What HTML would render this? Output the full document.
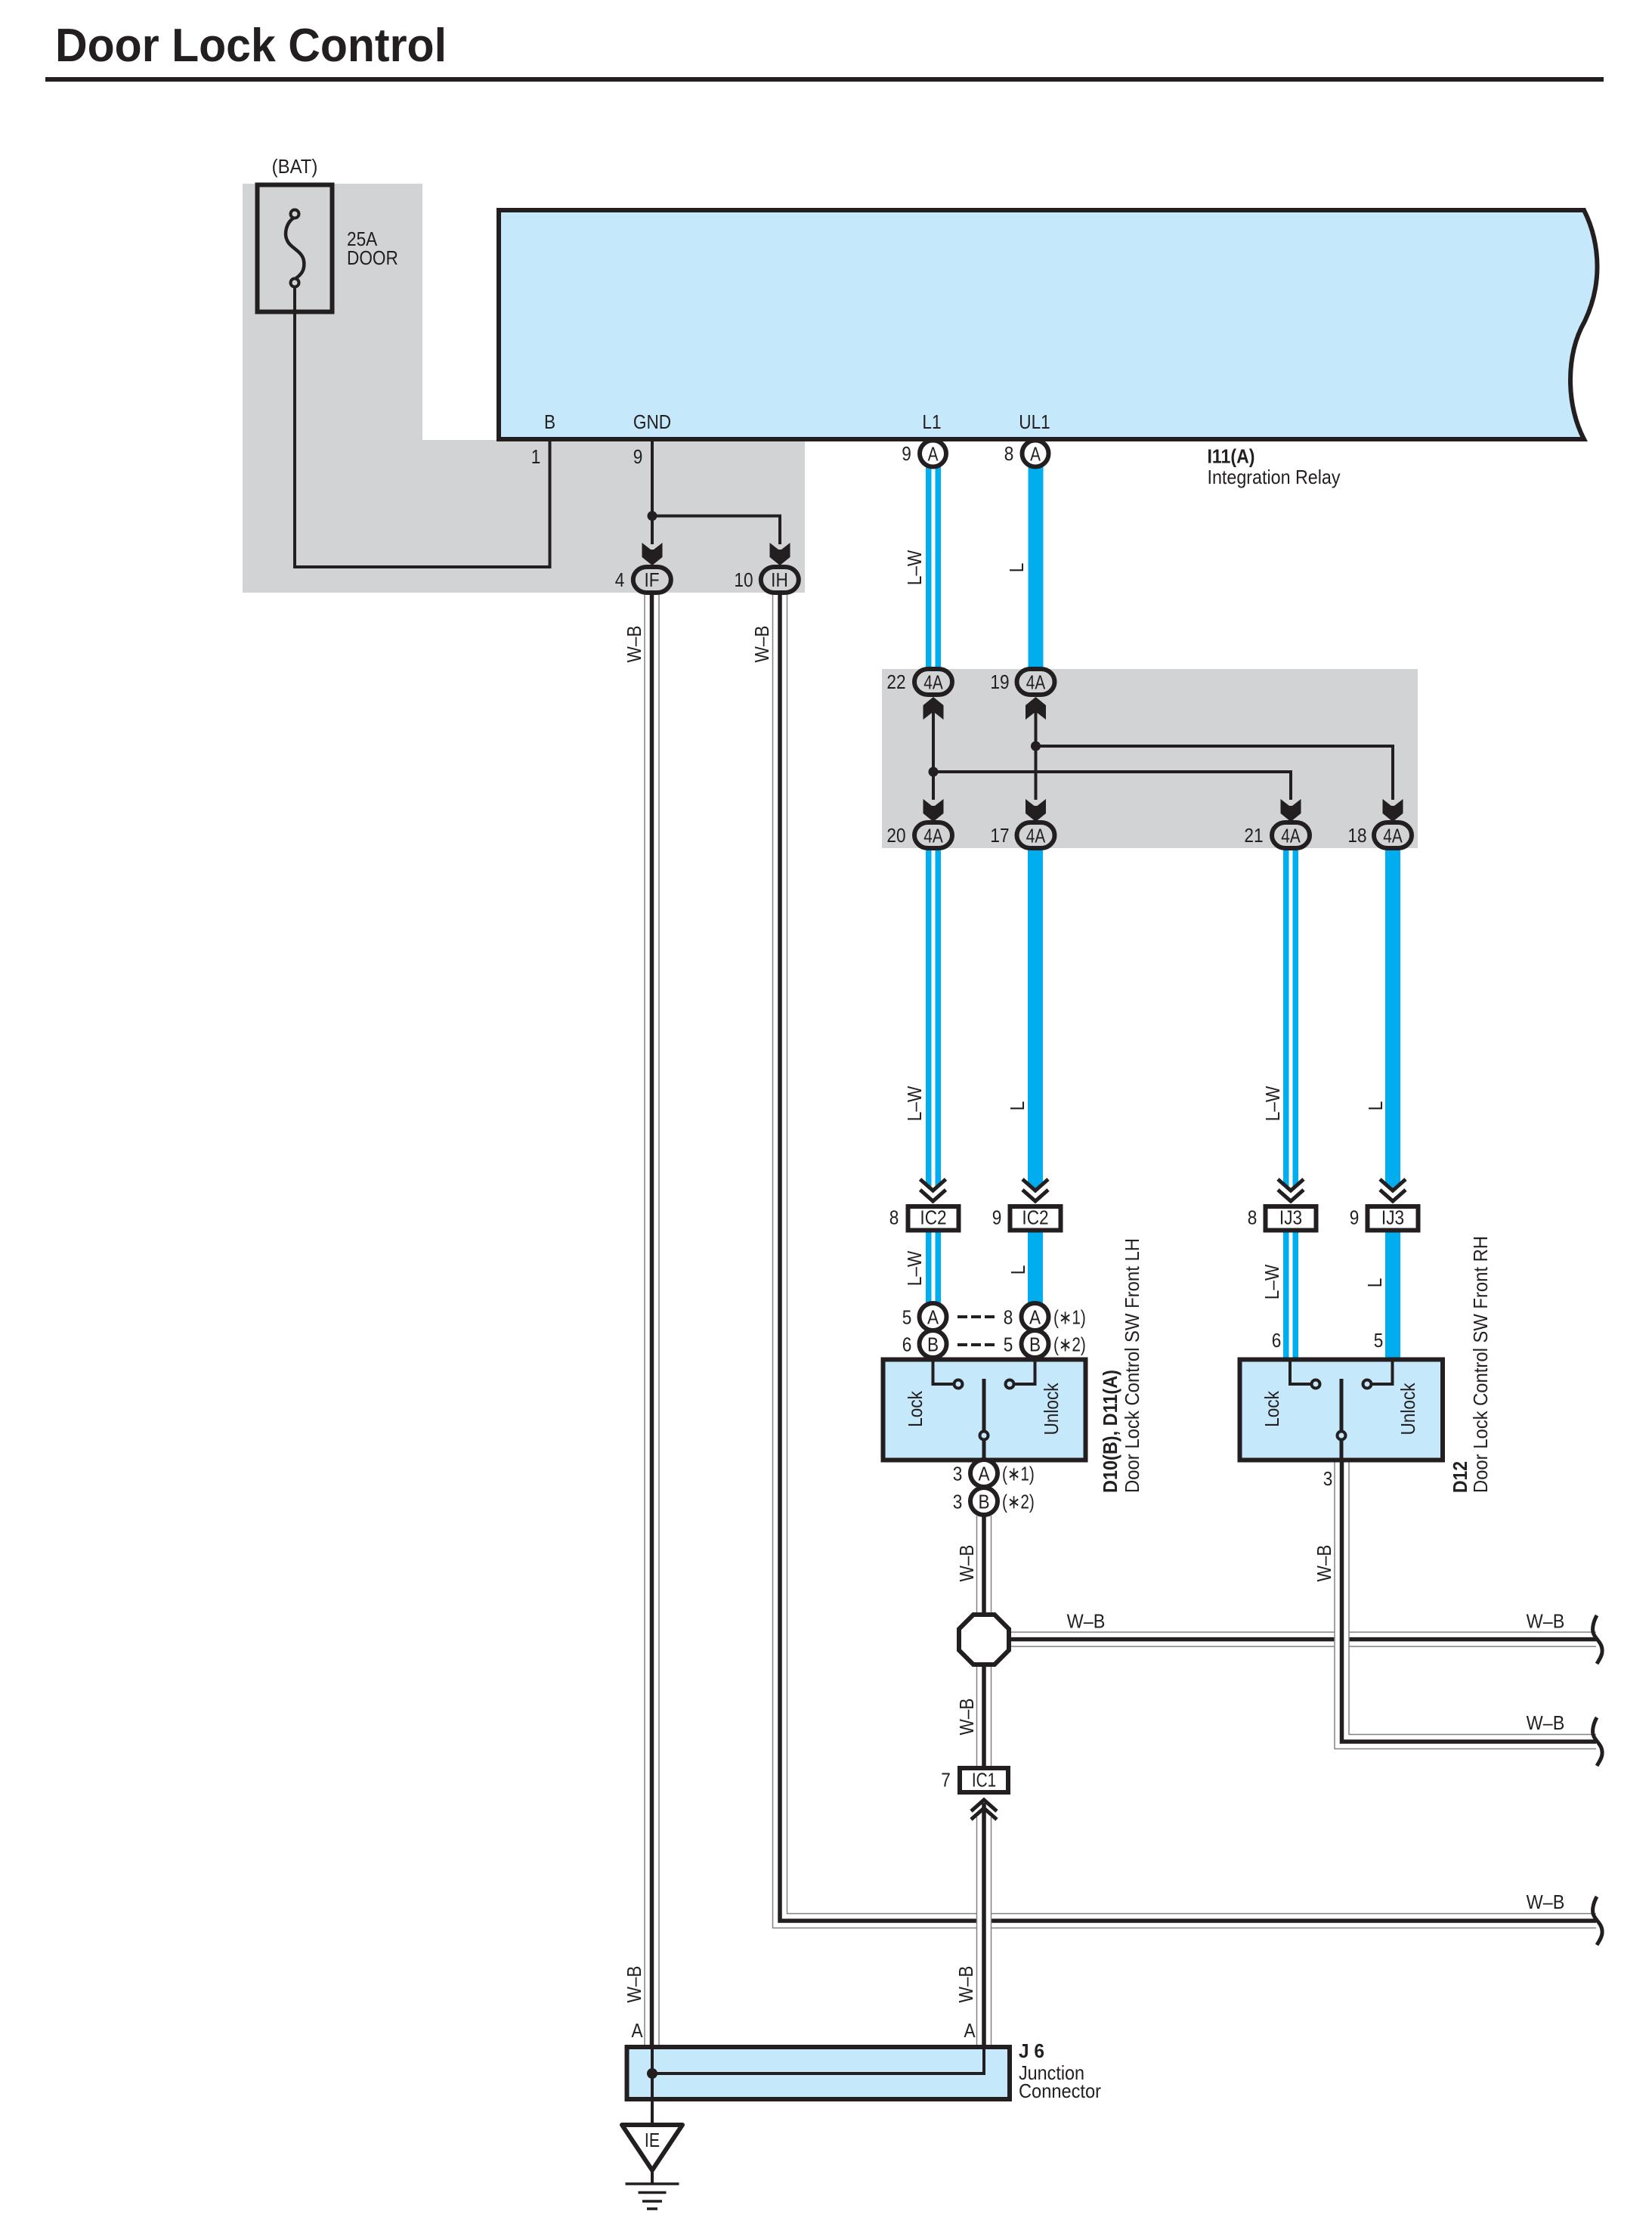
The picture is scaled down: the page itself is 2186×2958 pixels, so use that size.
<!DOCTYPE html>
<html><head><meta charset="utf-8"><title>Door Lock Control</title>
<style>
html,body{margin:0;padding:0;background:#fff}
svg{display:block}
text{font-family:"Liberation Sans",sans-serif;font-size:26px;fill:#231f20;text-anchor:middle}
.s{text-anchor:start}
.b{font-weight:bold}
.k{fill:none;stroke:#231f20;stroke-linejoin:miter}
.o{fill:none;stroke:#808285;stroke-width:20.5}
.w{fill:none;stroke:#fff;stroke-width:17.5}
.c{fill:none;stroke:#231f20;stroke-width:5.5}
.bl{fill:#00aeef}
.wt{fill:#fff}
.box{fill:#c5e8fb;stroke:#231f20;stroke-width:6}
.pill{fill:#d1d3d4;stroke:#231f20;stroke-width:6}
.pin{fill:#fff;stroke:#231f20;stroke-width:6}
</style></head><body>
<svg xmlns="http://www.w3.org/2000/svg" width="2186" height="2958" viewBox="0 0 2186 2958">
<defs>
<path id="ad" d="M-13.500 -29L-2 -20H2L13.500 -29V-10L0 1L-13.500 -10Z" fill="#231f20"/>
<path id="au" d="M-13.500 29L-2 20H2L13.500 29V10L0 -1L-13.500 10Z" fill="#231f20"/>
<path id="chev" d="M-17 -32L0 -17L17 -32M-17 -18L0 -3L17 -18" fill="none" stroke="#231f20" stroke-width="5"/>
<path id="brk" d="M2113 -32C2108 -23 2106 -13 2109 -7C2112 0 2121 5 2120 16C2120 21 2116 27 2113 32" fill="none" stroke="#231f20" stroke-width="5"/>
</defs>
<rect width="2186" height="2958" fill="#fff"/>

<!-- title -->
<text class="s b" transform="translate(73 81)" style="font-size:62px" textLength="518" lengthAdjust="spacingAndGlyphs">Door Lock Control</text>
<rect x="60" y="102" width="2062" height="6" fill="#231f20"/>

<!-- grey zones -->
<path d="M321 243H559V582H1065V784H321Z" fill="#d1d3d4"/>
<rect x="1167" y="885" width="709" height="237" fill="#d1d3d4"/>

<!-- relay -->
<path class="box" d="M660 278H2096C2107 300 2113.500 326 2113.500 353C2113.500 382 2106 406 2097 425C2085 446 2078 472 2078 503C2078 533 2085 560 2096 581H660Z"/>

<!-- fuse -->
<text transform="translate(390 229) scale(.92 1)">(BAT)</text>
<rect x="340.500" y="244.500" width="99" height="168" fill="none" stroke="#231f20" stroke-width="6"/>
<path class="k" stroke-width="4.500" d="M389 288C378 295 376 310 380 318C384 328 400 332 402 345C404 358 398 364 389 370"/>
<circle cx="390" cy="283" r="5.500" fill="#d1d3d4" stroke="#231f20" stroke-width="4"/>
<circle cx="390" cy="374" r="5.500" fill="#d1d3d4" stroke="#231f20" stroke-width="4"/>
<path class="k" stroke-width="4" d="M390 380V750H727.500V582"/>
<text class="s" transform="translate(459 325) scale(.87 1)">25A</text>
<text class="s" transform="translate(459 350) scale(.87 1)">DOOR</text>

<!-- relay pins -->
<text transform="translate(727.500 567) scale(.87 1)">B</text>
<text transform="translate(863 567) scale(.87 1)">GND</text>
<text transform="translate(1233 567) scale(.87 1)">L1</text>
<text transform="translate(1369 567) scale(.87 1)">UL1</text>
<text transform="translate(709 613) scale(.87 1)">1</text>
<text transform="translate(844 613) scale(.87 1)">9</text>

<path class="k" stroke-width="4" d="M863 584V720M863 682.500H1032V720"/>
<circle cx="863" cy="682.500" r="6.500" fill="#231f20"/>
<use href="#ad" x="863" y="747"/><use href="#ad" x="1032" y="747"/>

<!-- long W-B wires -->
<path class="o" d="M1032 785V2541H2112"/><path class="w" d="M1032 785V2541H2112"/><path class="c" d="M1032 785V2541H2112"/>
<path class="o" d="M862.500 785V2708"/><path class="w" d="M862.500 785V2708"/><path class="c" d="M862.500 785V2708"/>

<path class="o" d="M1337 2168.600H2112"/><path class="w" d="M1337 2168.600H2112"/><path class="c" d="M1337 2168.600H2112"/>
<path class="o" d="M1775.500 1934V2304H2112"/><path class="w" d="M1775.500 1934V2304H2112"/><path class="c" d="M1775.500 1934V2304H2112"/>
<path class="o" d="M1302 2005V2336"/><path class="w" d="M1302 2005V2336"/><path class="c" d="M1302 2005V2336"/>
<path class="o" d="M1302 2404V2708"/><path class="w" d="M1302 2404V2708"/><path class="c" d="M1302 2385V2708"/>

<use href="#brk" y="2169"/><use href="#brk" y="2304"/><use href="#brk" y="2541"/>
<text transform="translate(1437 2153.500) scale(.9 1)">W–B</text>
<text transform="translate(2045 2153.500) scale(.9 1)">W–B</text>
<text transform="translate(2045 2288) scale(.9 1)">W–B</text>
<text transform="translate(2045 2525) scale(.9 1)">W–B</text>

<!-- IF / IH pills -->
<rect class="pill" x="837.800" y="750" width="50" height="34" rx="18" ry="17"/>
<rect class="pill" x="1006.800" y="750" width="50" height="34" rx="18" ry="17"/>
<text transform="translate(862.500 776) scale(.87 1)">IF</text>
<text transform="translate(1031.500 776) scale(.87 1)">IH</text>
<text transform="translate(820 776) scale(.87 1)">4</text>
<text transform="translate(984 776) scale(.87 1)">10</text>
<text transform="translate(848 852) rotate(-90) scale(.87 1)">W–B</text>
<text transform="translate(1017 852) rotate(-90) scale(.87 1)">W–B</text>

<!-- blue wires: upper -->
<rect class="bl" x="1225" y="615" width="20" height="270"/><rect class="wt" x="1232.500" y="615" width="5" height="270"/>
<rect class="bl" x="1360.500" y="615" width="20" height="270"/>
<!-- blue wires: middle -->
<path class="bl" d="M1225 1120H1245V1564L1235 1574L1225 1564Z"/><rect class="wt" x="1232.500" y="1120" width="5" height="460"/>
<path class="bl" d="M1360 1120H1380V1564L1370 1574L1360 1564Z"/>
<path class="bl" d="M1698 1120H1718V1564L1708 1574L1698 1564Z"/><rect class="wt" x="1705.500" y="1120" width="5" height="460"/>
<path class="bl" d="M1833 1120H1853V1564L1843 1574L1833 1564Z"/>
<!-- blue wires: lower -->
<rect class="bl" x="1225" y="1628" width="20" height="100"/><rect class="wt" x="1232.500" y="1628" width="5" height="100"/>
<rect class="bl" x="1360" y="1628" width="20" height="100"/>
<rect class="bl" x="1698" y="1628" width="20" height="172"/><rect class="wt" x="1705.500" y="1628" width="5" height="172"/>
<rect class="bl" x="1833" y="1628" width="20" height="172"/>

<!-- top pins -->
<circle class="pin" cx="1234.500" cy="600" r="17.500"/>
<circle class="pin" cx="1370" cy="600" r="17.500"/>
<text transform="translate(1234.500 609.500) scale(.8 1)">A</text>
<text transform="translate(1370 609.500) scale(.8 1)">A</text>
<text transform="translate(1199.500 609) scale(.87 1)">9</text>
<text transform="translate(1335 609) scale(.87 1)">8</text>
<text class="s b" transform="translate(1597.500 612.500)" textLength="63" lengthAdjust="spacingAndGlyphs">I11(A)</text>
<text class="s" transform="translate(1597.500 640)" textLength="176" lengthAdjust="spacingAndGlyphs">Integration Relay</text>

<text transform="translate(1219 751) rotate(-90) scale(.87 1)">L–W</text>
<text transform="translate(1354 751) rotate(-90) scale(.87 1)">L</text>

<!-- 4A splice -->
<path class="k" stroke-width="4" d="M1235 925V1058M1370.500 925V1058M1235 1021H1708V1058M1370.500 987H1843V1058"/>
<circle cx="1235" cy="1021" r="6.500" fill="#231f20"/>
<circle cx="1370.500" cy="987" r="6.500" fill="#231f20"/>
<use href="#au" x="1235" y="923"/><use href="#au" x="1370.500" y="923"/>
<use href="#ad" x="1235" y="1086"/><use href="#ad" x="1370.500" y="1086"/><use href="#ad" x="1708" y="1086"/><use href="#ad" x="1843" y="1086"/>
<g>
<rect class="pill" x="1210" y="885" width="50" height="34" rx="18" ry="17"/>
<rect class="pill" x="1345.500" y="885" width="50" height="34" rx="18" ry="17"/>
<rect class="pill" x="1210" y="1088" width="50" height="34" rx="18" ry="17"/>
<rect class="pill" x="1345.500" y="1088" width="50" height="34" rx="18" ry="17"/>
<rect class="pill" x="1683" y="1088" width="50" height="34" rx="18" ry="17"/>
<rect class="pill" x="1818" y="1088" width="50" height="34" rx="18" ry="17"/>
</g>
<text transform="translate(1235 911.500) scale(.8 1)">4A</text>
<text transform="translate(1370.500 911.500) scale(.8 1)">4A</text>
<text transform="translate(1235 1114.500) scale(.8 1)">4A</text>
<text transform="translate(1370.500 1114.500) scale(.8 1)">4A</text>
<text transform="translate(1708 1114.500) scale(.8 1)">4A</text>
<text transform="translate(1843 1114.500) scale(.8 1)">4A</text>
<text transform="translate(1186 911) scale(.87 1)">22</text>
<text transform="translate(1323 911) scale(.87 1)">19</text>
<text transform="translate(1186 1114) scale(.87 1)">20</text>
<text transform="translate(1323 1114) scale(.87 1)">17</text>
<text transform="translate(1659 1114) scale(.87 1)">21</text>
<text transform="translate(1796 1114) scale(.87 1)">18</text>

<text transform="translate(1219 1460) rotate(-90) scale(.87 1)">L–W</text>
<text transform="translate(1355 1463) rotate(-90) scale(.87 1)">L</text>
<text transform="translate(1693 1460) rotate(-90) scale(.87 1)">L–W</text>
<text transform="translate(1829 1463) rotate(-90) scale(.87 1)">L</text>

<!-- chevrons + connectors -->
<use href="#chev" x="1234.500" y="1592"/><use href="#chev" x="1370" y="1592"/><use href="#chev" x="1708" y="1592"/><use href="#chev" x="1843" y="1592"/>
<rect class="pin" x="1201.500" y="1596" width="67" height="31.500" stroke-width="5"/>
<rect class="pin" x="1336.500" y="1596" width="67" height="31.500" stroke-width="5"/>
<rect class="pin" x="1674.500" y="1596" width="67" height="31.500" stroke-width="5"/>
<rect class="pin" x="1809.500" y="1596" width="67" height="31.500" stroke-width="5"/>
<text transform="translate(1235 1619.500) scale(.87 1)">IC2</text>
<text transform="translate(1370 1619.500) scale(.87 1)">IC2</text>
<text transform="translate(1708 1619.500) scale(.87 1)">IJ3</text>
<text transform="translate(1843 1619.500) scale(.87 1)">IJ3</text>
<text transform="translate(1183 1619.500) scale(.87 1)">8</text>
<text transform="translate(1319 1619.500) scale(.87 1)">9</text>
<text transform="translate(1657 1619.500) scale(.87 1)">8</text>
<text transform="translate(1792 1619.500) scale(.87 1)">9</text>

<text transform="translate(1219 1678) rotate(-90) scale(.87 1)">L–W</text>
<text transform="translate(1356 1680) rotate(-90) scale(.87 1)">L</text>
<text transform="translate(1692 1696) rotate(-90) scale(.87 1)">L–W</text>
<text transform="translate(1828 1697) rotate(-90) scale(.87 1)">L</text>

<!-- LH switch -->
<circle class="pin" cx="1234.500" cy="1742" r="18"/>
<circle class="pin" cx="1234.500" cy="1778" r="18"/>
<circle class="pin" cx="1369.500" cy="1742" r="18"/>
<circle class="pin" cx="1369.500" cy="1778" r="18"/>
<rect class="box" x="1168.500" y="1798.500" width="268" height="133"/>
<text transform="translate(1234.500 1751.500) scale(.87 1)">A</text>
<text transform="translate(1234.500 1787.500) scale(.87 1)">B</text>
<text transform="translate(1369.500 1751.500) scale(.87 1)">A</text>
<text transform="translate(1369.500 1787.500) scale(.87 1)">B</text>
<text transform="translate(1200 1751.500) scale(.87 1)">5</text>
<text transform="translate(1200 1787.500) scale(.87 1)">6</text>
<text transform="translate(1334 1751.500) scale(.87 1)">8</text>
<text transform="translate(1334 1787.500) scale(.87 1)">5</text>
<path class="k" stroke-width="4" stroke-dasharray="13 5" d="M1267 1742H1317M1267 1779H1317"/>
<text class="s" transform="translate(1394 1751.500) scale(.8 1)">(∗1)</text>
<text class="s" transform="translate(1394 1787.500) scale(.8 1)">(∗2)</text>
<path class="k" stroke-width="4" d="M1234.500 1800V1831H1268M1369.500 1800V1831H1336"/>
<path class="k" stroke-width="5" d="M1302 1824V1934"/>
<circle cx="1268" cy="1831" r="5.500" fill="#c5e8fb" stroke="#231f20" stroke-width="4"/>
<circle cx="1336" cy="1831" r="5.500" fill="#c5e8fb" stroke="#231f20" stroke-width="4"/>
<circle cx="1302" cy="1899" r="5.500" fill="#c5e8fb" stroke="#231f20" stroke-width="4"/>
<text transform="translate(1220 1864) rotate(-90) scale(.87 1)">Lock</text>
<text transform="translate(1400 1864) rotate(-90) scale(.87 1)">Unlock</text>
<circle class="pin" cx="1302" cy="1949" r="18"/>
<circle class="pin" cx="1302" cy="1986" r="18"/>
<text transform="translate(1302 1958.500) scale(.87 1)">A</text>
<text transform="translate(1302 1995.500) scale(.87 1)">B</text>
<text transform="translate(1267 1958.500) scale(.87 1)">3</text>
<text transform="translate(1267 1995.500) scale(.87 1)">3</text>
<text class="s" transform="translate(1326 1958.500) scale(.8 1)">(∗1)</text>
<text class="s" transform="translate(1326 1995.500) scale(.8 1)">(∗2)</text>
<text class="s b" transform="translate(1478 1975) rotate(-90)" textLength="163" lengthAdjust="spacingAndGlyphs">D10(B), D11(A)</text>
<text class="s" transform="translate(1507 1975) rotate(-90)" textLength="337" lengthAdjust="spacingAndGlyphs">Door Lock Control SW Front LH</text>

<!-- RH switch -->
<rect class="box" x="1640.500" y="1798.500" width="268.500" height="133"/>
<text transform="translate(1689 1782) scale(.87 1)">6</text>
<text transform="translate(1824 1782) scale(.87 1)">5</text>
<path class="k" stroke-width="4" d="M1707 1800V1831H1741M1842.500 1800V1831H1809"/>
<path class="k" stroke-width="5" d="M1775 1824V1934"/>
<circle cx="1741" cy="1831" r="5.500" fill="#c5e8fb" stroke="#231f20" stroke-width="4"/>
<circle cx="1809" cy="1831" r="5.500" fill="#c5e8fb" stroke="#231f20" stroke-width="4"/>
<circle cx="1775" cy="1899" r="5.500" fill="#c5e8fb" stroke="#231f20" stroke-width="4"/>
<text transform="translate(1692 1864) rotate(-90) scale(.87 1)">Lock</text>
<text transform="translate(1872 1864) rotate(-90) scale(.87 1)">Unlock</text>
<text transform="translate(1757 1965) scale(.87 1)">3</text>
<text class="s b" transform="translate(1941 1975) rotate(-90)" textLength="42" lengthAdjust="spacingAndGlyphs">D12</text>
<text class="s" transform="translate(1968 1975) rotate(-90)" textLength="340" lengthAdjust="spacingAndGlyphs">Door Lock Control SW Front RH</text>

<!-- W-B vertical labels -->
<text transform="translate(1288 2068) rotate(-90) scale(.87 1)">W–B</text>
<text transform="translate(1288 2271) rotate(-90) scale(.87 1)">W–B</text>
<text transform="translate(1761 2068) rotate(-90) scale(.87 1)">W–B</text>
<text transform="translate(848 2625) rotate(-90) scale(.87 1)">W–B</text>
<text transform="translate(1287 2625) rotate(-90) scale(.87 1)">W–B</text>

<!-- octagon -->
<path class="pin" d="M1288 2136H1316L1335 2155V2183L1316 2202H1288L1269 2183V2155Z"/>

<!-- IC1 -->
<rect class="pin" x="1270" y="2339" width="64" height="32" stroke-width="6"/>
<text transform="translate(1302 2363.500) scale(.8 1)">IC1</text>
<text transform="translate(1251.500 2363.500) scale(.87 1)">7</text>
<path class="k" stroke-width="5" d="M1285 2396L1302 2381L1319 2396M1285 2407L1302 2392L1319 2407"/>

<!-- J6 -->
<rect class="box" x="829.500" y="2708" width="506.500" height="69"/>
<path class="k" stroke-width="4" d="M1302 2708V2743H863M863 2708V2810"/>
<circle cx="863" cy="2743" r="7" fill="#231f20"/>
<text transform="translate(843 2695) scale(.87 1)">A</text>
<text transform="translate(1283 2695) scale(.87 1)">A</text>
<text class="s b" transform="translate(1348 2722)" textLength="34" lengthAdjust="spacingAndGlyphs">J 6</text>
<text class="s" transform="translate(1348 2751)" textLength="87" lengthAdjust="spacingAndGlyphs">Junction</text>
<text class="s" transform="translate(1348 2775)" textLength="109" lengthAdjust="spacingAndGlyphs">Connector</text>

<!-- ground -->
<path d="M823 2811H903L863 2871Z" fill="#fff" stroke="#231f20" stroke-width="6" stroke-linejoin="round"/>
<text transform="translate(863 2840) scale(.82 1)">IE</text>
<path class="k" stroke-width="4" d="M863 2871V2889"/>
<path class="k" stroke-width="3.500" d="M827.500 2889H898.500M844.500 2900.500H881.500M850 2912H876M856 2922H870"/>
</svg>
</body></html>
